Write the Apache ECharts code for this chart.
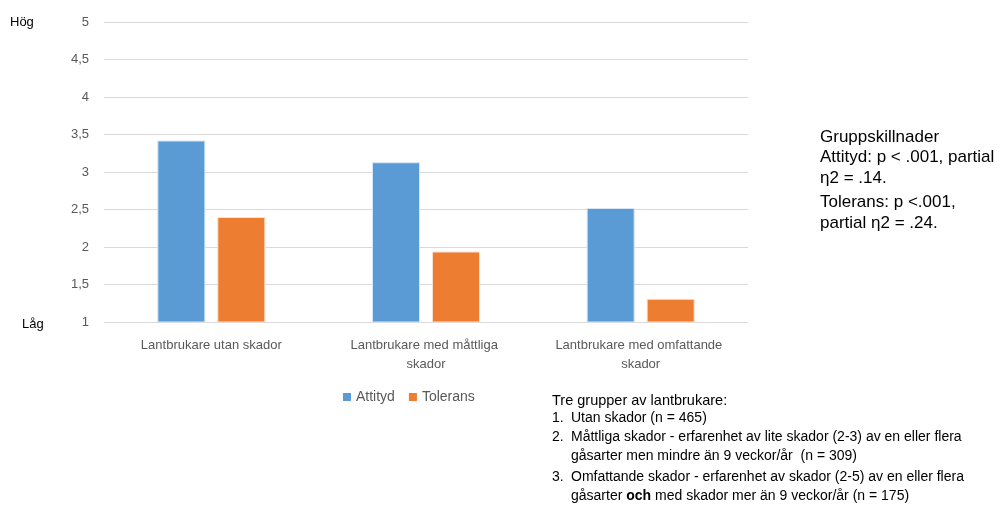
<!DOCTYPE html>
<html><head><meta charset="utf-8">
<script src="https://cdn.jsdelivr.net/npm/echarts@6/dist/echarts.min.js"></script>
<style>html,body{margin:0;padding:0;background:#fff}#c{width:1001px;height:505px}</style>
</head><body><div id="c"></div>
<script>
var categories = ['Lantbrukare utan skador', 'Lantbrukare med måttliga skador', 'Lantbrukare med omfattande skador'];
var attityd = [3.42, 3.13, 2.52];
var tolerans = [2.40, 1.94, 1.31];
var seriesNames = ['Attityd', 'Tolerans'];
var yTop = 'Hög', yBottom = 'Låg';
var statsLines = ['Gruppskillnader', 'Attityd: p < .001, partial', 'η2 = .14.', 'Tolerans: p <.001,', 'partial η2 = .24.'];
var groupTitle = 'Tre grupper av lantbrukare:';
var groupLines = [
  ['1.', 'Utan skador (n = 465)'],
  ['2.', 'Måttliga skador - erfarenhet av lite skador (2-3) av en eller flera'],
  ['', 'gåsarter men mindre än 9 veckor/år  (n = 309)'],
  ['3.', 'Omfattande skador - erfarenhet av skador (2-5) av en eller flera'],
  ['', '{n|gåsarter }{b|och}{n| med skador mer än 9 veckor/år (n = 175)}']
];
var FONT = 'Liberation Sans';
var chart = echarts.init(document.getElementById('c'));
var graphics = [
  {type:'text', left:10, top:16, style:{text:yTop, font:'13px ' + FONT, fill:'#000'}},
  {type:'text', left:22, top:318, style:{text:yBottom, font:'13px ' + FONT, fill:'#000'}}
];
var statsY = [129, 149, 170, 194, 215];
statsLines.forEach(function(t,i){
  graphics.push({type:'text', left:820, top:statsY[i], style:{text:t, font:'17px ' + FONT, fill:'#000'}});
});
graphics.push({type:'text', left:552, top:393, style:{text:groupTitle, font:'14.5px ' + FONT, fill:'#000'}});
var gy = [411, 430, 449, 470, 489];
groupLines.forEach(function(l,i){
  if (l[0]) graphics.push({type:'text', left:552, top:gy[i], style:{text:l[0], font:'14px ' + FONT, fill:'#000'}});
  graphics.push({type:'text', left:571, top:gy[i], style:{text:l[1], font:'14px ' + FONT, fill:'#000',
    rich:{n:{fontSize:14, fontFamily:FONT, fill:'#000'}, b:{fontSize:14, fontFamily:FONT, fontWeight:'bold', fill:'#000'}}}});
});
chart.setOption({
  animation:false,
  textStyle:{fontFamily:FONT},
  grid:{left:104, right:253, top:22, bottom:183, containLabel:false},
  legend:{data:seriesNames, left:338, top:385, itemWidth:8, itemHeight:8, itemGap:14, icon:'rect',
    itemStyle:{borderWidth:0},
    textStyle:{color:'#595959', fontSize:14, fontFamily:FONT}},
  xAxis:{type:'category', data:categories,
    axisLine:{show:false}, axisTick:{show:false},
    axisLabel:{color:'#595959', fontSize:13, margin:14, lineHeight:19, width:190, overflow:'break', interval:0}},
  yAxis:{type:'value', min:1, max:5, interval:0.5,
    axisLine:{show:false}, axisTick:{show:false},
    splitLine:{lineStyle:{color:'#d9d9d9', width:1}},
    axisLabel:{color:'#595959', fontSize:13, margin:15, formatter:function(v){return String(v).replace('.', ',');}}},
  series:[
    {name:seriesNames[0], type:'bar', data:attityd, barWidth:48, barGap:'25%',
      itemStyle:{color:'#5B9BD5', borderColor:'#d6e6f5', borderWidth:1}},
    {name:seriesNames[1], type:'bar', data:tolerans, barWidth:48, barGap:'25%',
      itemStyle:{color:'#ED7D31', borderColor:'#fbe0cf', borderWidth:1}}
  ],
  graphic:graphics
});
</script></body></html>
